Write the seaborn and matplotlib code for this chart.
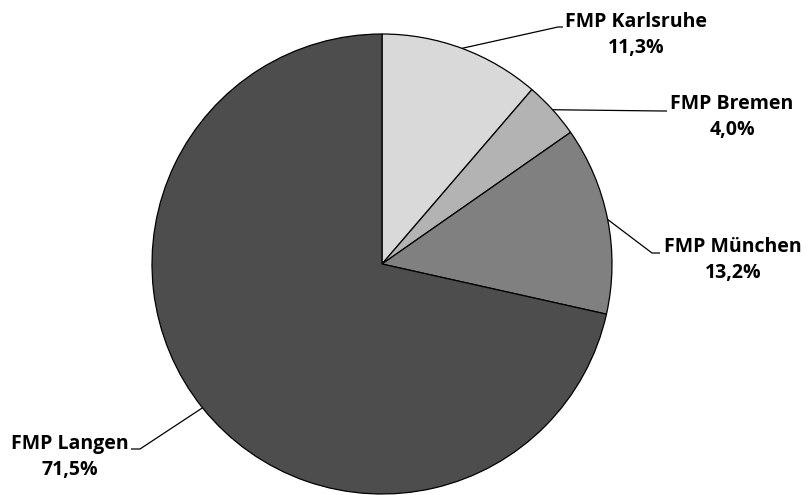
import numpy as np
import matplotlib
matplotlib.use("Agg")
import matplotlib.pyplot as plt
import seaborn as sns

# data
sites = ["FMP Karlsruhe", "FMP Bremen", "FMP München", "FMP Langen"]
shares = [11.3, 4.0, 13.2, 71.5]
pct_labels = ["11,3%", "4,0%", "13,2%", "71,5%"]
colors = ["#d9d9d9", "#b3b3b3", "#808080", "#4d4d4d"]

sns.set_style("white")
plt.rcParams["font.family"] = ["Open Sans", "DejaVu Sans"]

W, H = 808, 495
CX, CY, R = 382, 264, 230  # pie centre / radius in pixels


def px(x, y):
    # pixel position -> data coords (pie radius = 1)
    return (x - CX) / R, (CY - y) / R


fig = plt.figure(figsize=(W / 100, H / 100), dpi=100)
ax = fig.add_axes([0, 0, 1, 1])

wedges, _ = ax.pie(shares, colors=colors, startangle=90, counterclock=False,
                   radius=1, wedgeprops=dict(edgecolor="black", linewidth=0.9))

# leader line elbows and label anchors (pixels)
elbows = [[(558, 27), (563, 27)],
          [(663, 111), (667, 111)],
          [(652, 253), (660, 253)],
          [(140, 449), (131, 449)]]
label_pos = [(636, 35), (732, 117), (733, 260), (70, 457)]

for w, elb, lp, name, pct in zip(wedges, elbows, label_pos, sites, pct_labels):
    mid = np.deg2rad((w.theta1 + w.theta2) / 2)
    pts = [(np.cos(mid), np.sin(mid))] + [px(*p) for p in elb]
    xs, ys = zip(*pts)
    ax.plot(xs, ys, color="black", linewidth=0.9, solid_capstyle="butt")
    tx, ty = px(*lp)
    ax.text(tx, ty, f"{name}\n{pct}", ha="center", va="center",
            fontsize=14, fontweight="bold", linespacing=1.42,
            multialignment="center", color="black")

ax.set_xlim(-CX / R, (W - CX) / R)
ax.set_ylim(-(H - CY) / R, CY / R)
ax.set_aspect("equal")
ax.axis("off")

fig.savefig("out.png", dpi=100)
